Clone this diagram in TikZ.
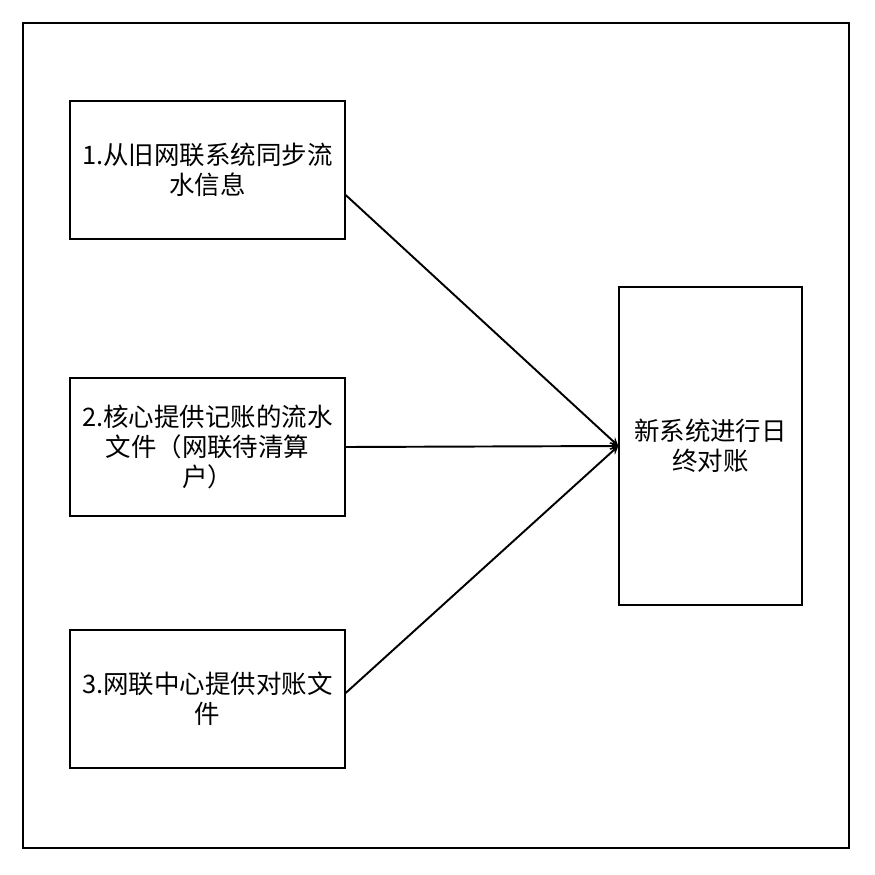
\documentclass[tikz,border=0pt]{standalone}
\usepackage{fontspec}
\setmainfont{Noto Sans CJK SC}
\usetikzlibrary{arrows}
\tikzstyle{arrow} = [line width=1.1pt,->,>=stealth]
\tikzstyle{srcbox} = [
    rectangle, minimum width=5.5cm, minimum height=2.76cm, align=center,
    draw=black, thick, font=\fontsize{14.5}{17}\selectfont, inner sep=0pt]
\tikzstyle{dstbox} = [
    rectangle, minimum width=3.66cm, minimum height=6.36cm, align=center,
    draw=black, thick, font=\fontsize{14.5}{17}\selectfont, inner sep=0pt]

\begin{document}
\begin{tikzpicture}[x=0.02cm,y=-0.02cm]
\useasboundingbox (0,0) rectangle (875,875);
\draw [thick] (23,23) rectangle (849,848);

\node (sync-flow) [srcbox] at (207.5,170) {
    1.从旧网联系统同步流\\ 水信息
};

\node (core-file) [srcbox] at (207.5,447) {
    2.核心提供记账的流水\\ 文件（网联待清算\\ 户）
};

\node (center-file) [srcbox] at (207.5,699) {
    3.网联中心提供对账文\\ 件
};

\node (recon) [dstbox] at (710.5,446) {
    新系统进行日\\ 终对账
};

\draw [arrow] (sync-flow.east |- 0,195) -- (recon.west);
\draw [arrow] (core-file.east) -- (recon.west);
\draw [arrow] (center-file.east |- 0,693) -- (recon.west);
\end{tikzpicture}
\end{document}
